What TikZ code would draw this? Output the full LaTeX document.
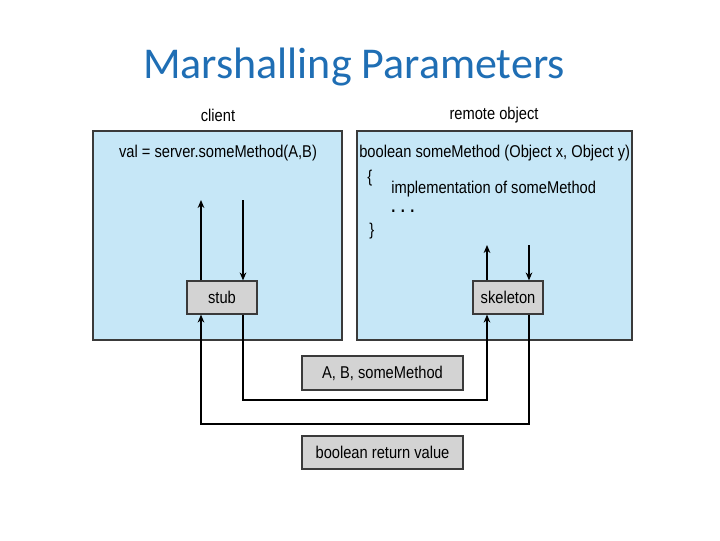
\documentclass[tikz,border=0pt]{standalone}
\usepackage{fontspec}
\usetikzlibrary{arrows.meta}
\newfontfamily\titlefont{Carlito}
\newfontfamily\diagfont[FakeStretch=0.86]{Liberation Sans}
\definecolor{titleblue}{HTML}{1F6EB4}
\definecolor{paneblue}{HTML}{C6E7F7}
\definecolor{boxgray}{HTML}{D3D3D3}
\definecolor{edgegray}{HTML}{3A3A3A}
\tikzset{
  pane/.style={draw=edgegray, line width=0.9pt, fill=paneblue},
  graybox/.style={draw=edgegray, line width=0.9pt, fill=boxgray, inner sep=0pt, font=\diagfont\fontsize{12.8}{14}\selectfont},
  lbl/.style={inner sep=0pt, font=\diagfont\fontsize{12.8}{14}\selectfont},
  flow/.style={draw=black, line width=0.9pt, -{Stealth[length=6pt,width=5pt]}},
}
\begin{document}
\begin{tikzpicture}[x=0.75pt,y=-0.75pt]
\useasboundingbox (0,0) rectangle (720,540);
\node[text=titleblue, font=\titlefont\fontsize{33}{37}\selectfont, inner sep=0pt] (title) at (354,67) {Marshalling Parameters};

% panes
\draw[pane] (93,131) rectangle (342,340);
\draw[pane] (357,131) rectangle (632,340);
\node[lbl] (client) at (218,115) {client};
\node[lbl] (remote) at (494,115) {remote object};
\node[lbl] (call) at (218,153) {val = server.someMethod(A,B)};
\node[lbl, anchor=west] (sig) at (359,153) {boolean someMethod (Object x, Object y)};
\node[lbl, anchor=west] (ob) at (367,178) {\{};
\node[lbl, anchor=west] (impl) at (391,189) {implementation of someMethod};
\node[lbl, anchor=west] (dots) at (391,211) {\textbf{. . .}};
\node[lbl, anchor=west] (cb) at (369,231) {\}};

% boxes
\node[graybox, minimum width=70*0.75pt, minimum height=33*0.75pt] (stub) at (222,297.5) {stub};
\node[graybox, minimum width=70*0.75pt, minimum height=33*0.75pt] (skel) at (508,297.5) {skeleton};
\node[graybox, minimum width=161*0.75pt, minimum height=34*0.75pt] (args) at (382.5,373) {A, B, someMethod};
\node[graybox, minimum width=161*0.75pt, minimum height=33*0.75pt] (ret) at (382.5,452.5) {boolean return value};

% coordinates
\coordinate (s1t) at (201,200);
\coordinate (s2t) at (243,200);
\coordinate (k1t) at (487,245);
\coordinate (k2t) at (529,245);

\draw[flow] (stub.north -| s1t) -- (s1t);
\draw[flow] (s2t) -- (stub.north -| s2t);
\draw[flow] (skel.north -| k1t) -- (k1t);
\draw[flow] (k2t) -- (skel.north -| k2t);
\draw[flow] (stub.south -| s2t) -- (243,400) -- (487,400) -- (skel.south -| k1t);
\draw[flow] (skel.south -| k2t) -- (529,424) -- (201,424) -- (stub.south -| s1t);
\end{tikzpicture}
\end{document}
